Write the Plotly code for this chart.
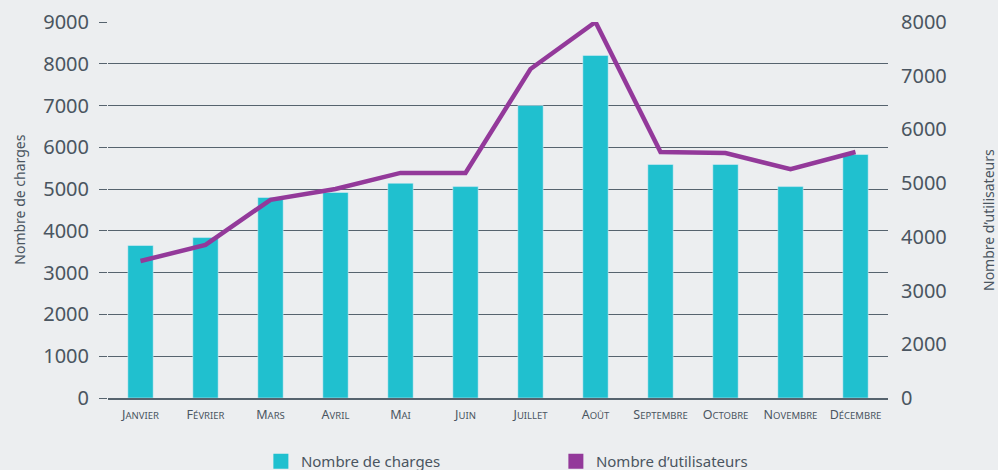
import plotly.graph_objects as go

months = ["Janvier", "Février", "Mars", "Avril", "Mai", "Juin", "Juillet",
          "Août", "Septembre", "Octobre", "Novembre", "Décembre"]
charges = [3650, 3840, 4800, 4920, 5140, 5060, 7000, 8200, 5590, 5590, 5060, 5830]
utilisateurs = [3550, 3850, 4690, 4890, 5190, 5190, 7125, 8000, 5580, 5560, 5260, 5580]

left_ticks = [0, 1000, 2000, 3000, 4000, 5000, 6000, 7000, 8000, 9000]
right_tickvals = [1000, 2000, 3000, 4000, 5000, 6000, 7000, 8000]
right_ticktext = ["0", "2000", "3000", "4000", "5000", "6000", "7000", "8000"]

BG = "#ECEEF0"
TEXT = "#4A5560"
GRID = "#56636E"
TEAL = "#20C0CF"
PURPLE = "#93399A"
FONT = "Noto Sans"


def small_caps(s):
    return s[0] + "<span style='font-size:9.5px'>" + s[1:].upper() + "</span>"


fig = go.Figure()
fig.add_trace(go.Bar(x=months, y=charges, marker_color=TEAL, width=0.39,
                     showlegend=False, yaxis="y"))
fig.add_trace(go.Scatter(x=months, y=utilisateurs, mode="lines",
                         line=dict(color=PURPLE, width=4.5), showlegend=False,
                         yaxis="y2"))
# legend entries
fig.add_trace(go.Scatter(x=[None], y=[None], mode="markers", name="Nombre de charges",
                         marker=dict(symbol="square", size=15, color=TEAL)))
fig.add_trace(go.Scatter(x=[None], y=[None], mode="markers", name="Nombre d’utilisateurs",
                         marker=dict(symbol="square", size=15, color=PURPLE)))

fig.update_layout(
    width=998, height=470,
    margin=dict(l=108, r=110, t=22, b=72, autoexpand=False),
    paper_bgcolor=BG, plot_bgcolor=BG,
    font=dict(family=FONT, color=TEXT),
    xaxis=dict(
        tickmode="array", tickvals=months, ticktext=[small_caps(m) for m in months],
        tickfont=dict(size=12.5, color=TEXT), showgrid=False,
        showline=True, linecolor=GRID, linewidth=2, ticks="",
        ticklabelstandoff=4,
    ),
    yaxis=dict(
        range=[0, 9000], tickvals=left_ticks, showgrid=True, gridcolor=GRID,
        gridwidth=1, ticks="outside", ticklen=8, tickcolor=GRID, tickwidth=1,
        tickfont=dict(size=20, color=TEXT), zeroline=False, ticklabelstandoff=6,
    ),
    yaxis2=dict(
        range=[1000, 8000], overlaying="y", side="right", tickvals=right_tickvals,
        ticktext=right_ticktext, showgrid=False, zeroline=False,
        tickfont=dict(size=20, color=TEXT), ticks="", ticklabelstandoff=12,
    ),
    legend=dict(orientation="h", x=0.196, xanchor="left", y=-0.125, yanchor="top",
                font=dict(size=15, color=TEXT), entrywidth=250,
                entrywidthmode="pixels", bgcolor="rgba(0,0,0,0)"),
    annotations=[
        dict(text="Nombre de charges", xref="paper", yref="paper", x=-0.113, y=0.527,
             textangle=-90, showarrow=False, font=dict(size=14, color=TEXT),
             xanchor="center", yanchor="middle"),
        dict(text="Nombre d’utilisateurs", xref="paper", yref="paper", x=1.128, y=0.473,
             textangle=-90, showarrow=False, font=dict(size=14, color=TEXT),
             xanchor="center", yanchor="middle"),
    ],
)

fig.write_html("out.html", config={"displayModeBar": False},
               post_script="document.body.style.margin='0';document.body.style.overflow='hidden';")
